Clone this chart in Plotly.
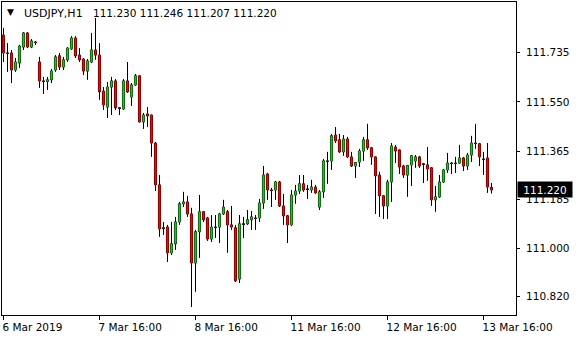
import plotly.graph_objects as go

symbol = "USDJPY,H1"
tick_labels = ["6 Mar 2019", "7 Mar 16:00", "8 Mar 16:00", "11 Mar 16:00", "12 Mar 16:00", "13 Mar 16:00"]
tick_bars = [0, 24, 48, 72, 96, 120]
price_ticks = [110.820, 111.000, 111.185, 111.365, 111.550, 111.735]

opens = [111.801,111.734,111.734,111.670,111.696,111.756,111.809,111.756,111.775,111.700,
111.629,111.627,111.633,111.670,111.723,111.681,111.708,111.749,111.790,111.726,
111.711,111.666,111.700,111.745,111.726,111.591,111.531,111.606,111.629,111.528,
111.524,111.629,111.569,111.614,111.648,111.475,111.505,111.501,111.396,111.239,
111.078,111.081,110.984,111.018,111.100,111.168,111.175,111.130,110.946,111.063,
111.138,111.115,111.036,111.081,111.081,111.130,111.138,111.089,111.078,110.886,
111.093,111.093,111.108,111.115,111.115,111.171,111.280,111.220,111.220,111.250,
111.160,111.123,111.089,111.201,111.216,111.243,111.224,111.220,111.231,111.156,
111.213,111.329,111.329,111.426,111.408,111.363,111.411,111.344,111.310,111.325,
111.366,111.408,111.378,111.344,111.276,111.198,111.160,111.250,111.381,111.370,
111.310,111.276,111.314,111.329,111.344,111.318,111.314,111.303,111.183,111.194,
111.250,111.295,111.321,111.321,111.321,111.340,111.310,111.351,111.396,111.393,
111.336,111.340,111.230]

highs = [111.828,111.771,111.745,111.715,111.764,111.812,111.812,111.786,111.779,111.719,
111.644,111.644,111.674,111.726,111.734,111.719,111.756,111.797,111.797,111.752,
111.715,111.711,111.809,111.865,111.771,111.606,111.625,111.644,111.636,111.531,
111.636,111.700,111.621,111.655,111.651,111.509,111.531,111.503,111.400,111.276,
111.100,111.089,111.100,111.119,111.175,111.213,111.198,111.153,111.070,111.201,
111.141,111.119,111.126,111.126,111.134,111.183,111.145,111.160,111.089,111.126,
111.119,111.145,111.141,111.126,111.186,111.310,111.284,111.228,111.254,111.254,
111.205,111.126,111.220,111.239,111.276,111.276,111.239,111.258,111.239,111.220,
111.336,111.363,111.430,111.456,111.430,111.426,111.419,111.363,111.325,111.374,
111.419,111.468,111.381,111.346,111.288,111.201,111.258,111.396,111.389,111.372,
111.314,111.314,111.351,111.351,111.348,111.321,111.381,111.306,111.235,111.276,
111.299,111.359,111.325,111.344,111.389,111.344,111.359,111.423,111.468,111.396,
111.363,111.396,111.246]

lows = [111.700,111.663,111.621,111.663,111.678,111.745,111.752,111.752,111.764,111.603,
111.580,111.595,111.621,111.663,111.670,111.670,111.700,111.745,111.715,111.700,
111.651,111.633,111.696,111.708,111.558,111.520,111.490,111.501,111.520,111.501,
111.520,111.584,111.535,111.610,111.473,111.449,111.456,111.344,111.216,111.044,
111.051,110.950,110.976,110.995,111.089,111.156,111.119,110.781,110.838,110.965,
111.100,111.029,111.025,111.040,111.021,111.126,110.984,111.070,110.875,110.871,
111.040,111.089,111.070,111.070,111.100,111.149,111.183,111.156,111.183,111.156,
111.089,111.021,111.085,111.168,111.205,111.213,111.186,111.209,111.205,111.145,
111.190,111.243,111.295,111.396,111.359,111.348,111.340,111.306,111.265,111.306,
111.329,111.370,111.314,111.130,111.119,111.111,111.111,111.175,111.321,111.280,
111.265,111.194,111.235,111.303,111.303,111.246,111.254,111.160,111.138,111.190,
111.246,111.284,111.280,111.284,111.318,111.291,111.295,111.325,111.374,111.310,
111.276,111.209,111.207]

closes = [111.734,111.732,111.670,111.700,111.760,111.809,111.756,111.779,111.773,111.629,
111.627,111.633,111.666,111.719,111.681,111.708,111.752,111.790,111.723,111.708,
111.666,111.704,111.745,111.726,111.588,111.539,111.606,111.629,111.528,111.526,
111.629,111.588,111.614,111.648,111.475,111.501,111.498,111.396,111.239,111.074,
111.076,110.984,111.018,111.100,111.168,111.175,111.130,110.946,111.063,111.138,
111.108,111.036,111.081,111.079,111.130,111.156,111.089,111.081,110.879,111.093,
111.091,111.108,111.119,111.113,111.171,111.276,111.220,111.218,111.250,111.160,
111.123,111.089,111.201,111.216,111.243,111.220,111.222,111.231,111.209,111.213,
111.329,111.327,111.423,111.404,111.363,111.411,111.344,111.310,111.323,111.366,
111.408,111.378,111.344,111.273,111.198,111.160,111.250,111.385,111.366,111.306,
111.276,111.312,111.348,111.344,111.310,111.316,111.299,111.183,111.194,111.250,
111.295,111.321,111.319,111.319,111.340,111.310,111.351,111.396,111.394,111.344,
111.334,111.231,111.220]

bars = list(range(len(opens)))
FONT = "DejaVu Sans"
UP = "#22c022"
DOWN = "#ff0000"

fig = go.Figure()
# wicks and body outlines
fig.add_trace(go.Candlestick(
    x=bars, open=opens, high=highs, low=lows, close=closes,
    increasing=dict(line=dict(color="black", width=1), fillcolor="black"),
    decreasing=dict(line=dict(color="black", width=1), fillcolor="black"),
    whiskerwidth=0, hoverinfo="skip", showlegend=False,
))
# body fills on top
fig.add_trace(go.Candlestick(
    x=bars, open=opens, high=highs, low=lows, close=closes,
    increasing=dict(line=dict(color=UP, width=0), fillcolor=UP),
    decreasing=dict(line=dict(color=DOWN, width=0), fillcolor=DOWN),
    whiskerwidth=0, hoverinfo="skip", showlegend=False,
))

last = closes[-1]
header = "\u00a0".join(f"{v:.3f}" for v in (opens[-1], highs[-1], lows[-1], closes[-1]))

fig.update_layout(
    width=580, height=340,
    margin=dict(l=2, r=64, t=2, b=25),
    paper_bgcolor="white", plot_bgcolor="white",
    font=dict(family=FONT, size=10.5, color="black"),
    boxgap=0.25, boxmode="overlay",
    xaxis=dict(
        range=[-0.375, 128.125], rangeslider=dict(visible=False),
        showgrid=False, zeroline=False,
        showline=True, mirror=True, linecolor="black", linewidth=1,
        tickmode="array", tickvals=tick_bars, ticktext=tick_labels,
        ticks="outside", ticklen=4, tickcolor="black",
        ticklabelposition="outside right",
        ticklabelstandoff=2, ticklabelshift=-2,
    ),
    yaxis=dict(
        range=[110.751, 111.925], side="right",
        showgrid=False, zeroline=False,
        showline=True, mirror=True, linecolor="black", linewidth=1,
        tickmode="array", tickvals=price_ticks,
        ticktext=[f"{v:.3f}" for v in price_ticks],
        ticks="outside", ticklen=3, tickcolor="black",
        ticklabelstandoff=4,
    ),
    annotations=[
        dict(xref="paper", yref="paper", x=0, y=1, xanchor="left", yanchor="top",
             xshift=3, yshift=-3, text="\u25bc", showarrow=False,
             font=dict(family=FONT, size=9, color="black")),
        dict(xref="paper", yref="paper", x=0, y=1, xanchor="left", yanchor="top",
             xshift=20, yshift=-3, text=symbol, showarrow=False,
             font=dict(family=FONT, size=11, color="black")),
        dict(xref="paper", yref="paper", x=0, y=1, xanchor="left", yanchor="top",
             xshift=89, yshift=-3, text=header, showarrow=False,
             font=dict(family=FONT, size=10.5, color="black")),
        dict(xref="paper", yref="y", x=1, y=last, xanchor="left", yanchor="middle",
             xshift=1, text=f"{last:.3f}", showarrow=False, bgcolor="black",
             width=50, height=11, borderpad=2,
             font=dict(family=FONT, size=10.5, color="white")),
    ],
)

fig.write_html("out.html", config={"displayModeBar": False})
